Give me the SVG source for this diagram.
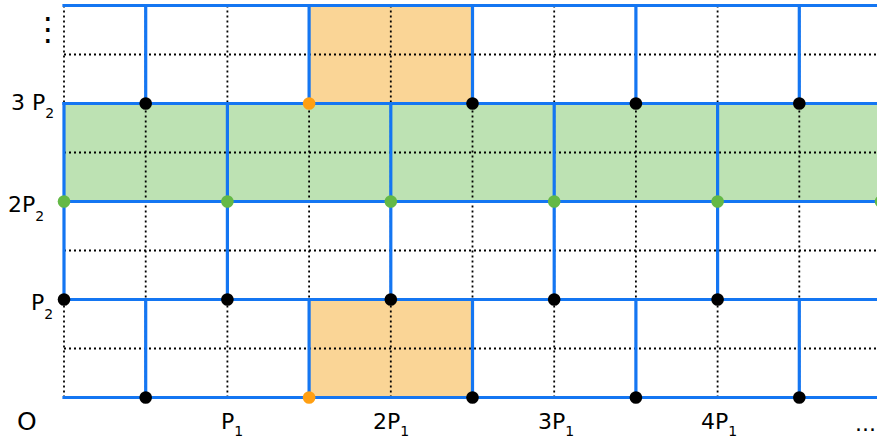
<svg xmlns="http://www.w3.org/2000/svg" width="877" height="445" viewBox="0 0 877 445">
<style>
.dot{stroke:#000;stroke-width:1.8;stroke-dasharray:2 3;fill:none}
.blue{stroke:#1476F2;stroke-width:3.2;fill:none;stroke-linecap:square}
.lbl{font-family:"DejaVu Sans","Liberation Sans",sans-serif;font-size:22px;fill:#000}
.sub{font-size:14px}
.bk{fill:#000}
.or{fill:#FF9F12}
.gr{fill:#64B946}
</style>
<rect width="877" height="445" fill="#fff"/>
<g id="fills">
<rect x="64" y="103.5" width="813" height="98" fill="#BDE2B3"/>
<rect x="309.1" y="5.5" width="163.4" height="98" fill="#FAD596"/>
<rect x="309.1" y="299.5" width="163.4" height="98" fill="#FAD596"/>
</g>
<g id="dotted-grid">
<path class="dot" d="M64 5.5V397.5M145.7 5.5V397.5M227.4 5.5V397.5M309.1 5.5V397.5M390.8 5.5V397.5M472.5 5.5V397.5M554.2 5.5V397.5M635.9 5.5V397.5M717.6 5.5V397.5M799.3 5.5V397.5"/>
<path class="dot" d="M64 54.5H877M64 152.5H877M64 250.5H877M64 348.5H877"/>
</g>
<g id="connectors">
<path class="blue" d="M64 5.5H877M64 103.5H877M64 201.5H877M64 299.5H877M64 397.5H877"/>
<path class="blue" d="M145.7 5.5V103.5M309.1 5.5V103.5M472.5 5.5V103.5M635.9 5.5V103.5M799.3 5.5V103.5"/>
<path class="blue" d="M64 103.5V299.5M227.4 103.5V299.5M390.8 103.5V299.5M554.2 103.5V299.5M717.6 103.5V299.5"/>
<path class="blue" d="M145.7 299.5V397.5M309.1 299.5V397.5M472.5 299.5V397.5M635.9 299.5V397.5M799.3 299.5V397.5"/>
</g>
<g id="points">
<circle class="bk" cx="145.7" cy="103.5" r="6.3"/>
<circle class="or" cx="309.1" cy="103.5" r="6.3"/>
<circle class="bk" cx="472.5" cy="103.5" r="6.3"/>
<circle class="bk" cx="635.9" cy="103.5" r="6.3"/>
<circle class="bk" cx="799.3" cy="103.5" r="6.3"/>
<circle class="gr" cx="64" cy="201.5" r="6.3"/>
<circle class="gr" cx="227.4" cy="201.5" r="6.3"/>
<circle class="gr" cx="390.8" cy="201.5" r="6.3"/>
<circle class="gr" cx="554.2" cy="201.5" r="6.3"/>
<circle class="gr" cx="717.6" cy="201.5" r="6.3"/>
<circle class="gr" cx="881" cy="201.5" r="6.3"/>
<circle class="bk" cx="64" cy="299.5" r="6.3"/>
<circle class="bk" cx="227.4" cy="299.5" r="6.3"/>
<circle class="bk" cx="390.8" cy="299.5" r="6.3"/>
<circle class="bk" cx="554.2" cy="299.5" r="6.3"/>
<circle class="bk" cx="717.6" cy="299.5" r="6.3"/>
<circle class="bk" cx="145.7" cy="397.5" r="6.3"/>
<circle class="or" cx="309.1" cy="397.5" r="6.3"/>
<circle class="bk" cx="472.5" cy="397.5" r="6.3"/>
<circle class="bk" cx="635.9" cy="397.5" r="6.3"/>
<circle class="bk" cx="799.3" cy="397.5" r="6.3"/>
</g>
<g id="labels">
<text class="lbl" x="32" y="40" style="font-size:32px">⋮</text>
<text class="lbl" x="11" y="110">3 P<tspan class="sub" dy="8">2</tspan></text>
<text class="lbl" x="8" y="212">2P<tspan class="sub" dy="9">2</tspan></text>
<text class="lbl" x="31" y="310">P<tspan class="sub" dy="9">2</tspan></text>
<text class="lbl" x="17" y="430" style="font-size:25px">O</text>
<text class="lbl" x="221" y="429">P<tspan class="sub" dy="7">1</tspan></text>
<text class="lbl" x="373" y="429">2P<tspan class="sub" dy="7">1</tspan></text>
<text class="lbl" x="538" y="429">3P<tspan class="sub" dy="7">1</tspan></text>
<text class="lbl" x="701" y="429">4P<tspan class="sub" dy="7">1</tspan></text>
<text class="lbl" x="855" y="431">...</text>
</g>
</svg>
